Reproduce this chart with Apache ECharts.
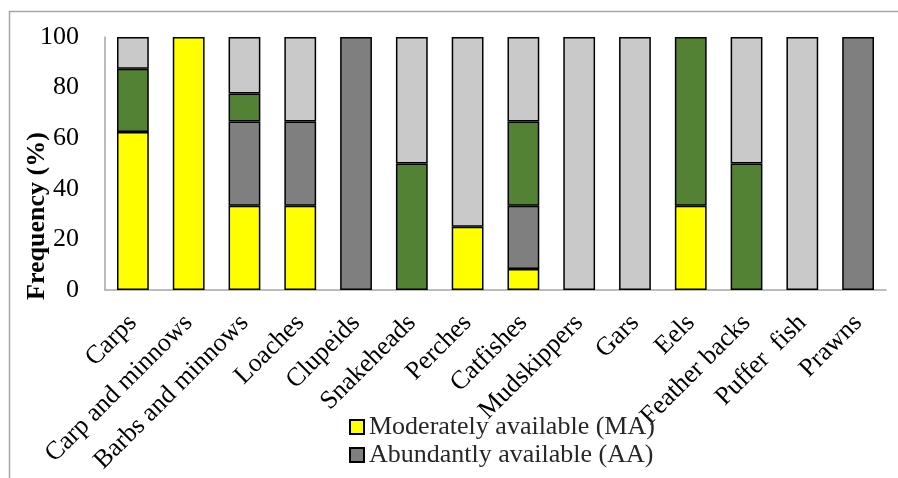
<!DOCTYPE html>
<html>
<head>
<meta charset="utf-8">
<script src="https://cdn.jsdelivr.net/npm/echarts@6/dist/echarts.min.js"></script>
<style>html,body{margin:0;padding:0;background:#fff}#c{width:898px;height:478px}</style>
</head>
<body>
<div id="c"></div>
<script>
var categories = ['Carps','Carp and minnows','Barbs and minnows','Loaches','Clupeids','Snakeheads','Perches','Catfishes','Mudskippers','Gars','Eels','Feather backs','Puffer  fish','Prawns'];
var moderately = [62.5,100,33.3,33.3,0,0,25,8.3,0,0,33.3,0,0,0];
var abundantly = [0,0,33.3,33.3,100,0,0,25,0,0,0,0,0,100];
var highly = [25,0,11.1,0,0,50,0,33.3,0,0,66.7,50,0,0];
var rarely = [12.5,0,22.3,33.4,0,50,75,33.4,100,100,0,50,100,0];
var yTicks = [0,20,40,60,80,100];

var font = "'Liberation Serif', serif";
var chart = echarts.init(document.getElementById('c'), null, {renderer:'canvas'});
function s(name, data, color){
  return {name:name, type:'bar', stack:'a', barCategoryGap:'43%',
    data:data.map(function(v){return v===0?'-':v;}),
    itemStyle:{color:color, borderColor:'#000', borderWidth:1.5}};
}
var legendBase = {orient:'vertical', left:349, padding:0, itemWidth:14, itemHeight:14, itemGap:6, icon:'rect',
  textStyle:{fontFamily:font, fontSize:26, color:'#262626'}};
chart.setOption({
  animation:false,
  graphic:[
    {type:'rect', shape:{x:9.5,y:11.5,width:1000,height:1000}, style:{fill:null, stroke:'#a6a6a6', lineWidth:1.5}, z:-1},
    {type:'text', x:37, y:216, rotation:Math.PI/2, style:{text:'Frequency (%)', font:"bold 26px 'Liberation Serif', serif", fill:'#000', textAlign:'center', textVerticalAlign:'middle'}}
  ],
  grid:{left:105, top:37, right:12, bottom:188, containLabel:false},
  legend:[
    Object.assign({}, legendBase, {data:['Moderately available (MA)'], top:414}),
    Object.assign({}, legendBase, {data:['Abundantly available (AA)'], top:442})
  ],
  xAxis:{type:'category', data:categories,
    axisLine:{lineStyle:{color:'#a6a6a6', width:1.5}}, axisTick:{show:false},
    axisLabel:{rotate:45, interval:0, margin:29, fontFamily:font, fontSize:26, color:'#000'}},
  yAxis:{type:'value', min:0, max:100, interval:20, splitLine:{show:false},
    axisLine:{show:true, lineStyle:{color:'#a6a6a6', width:1.5}}, axisTick:{show:false},
    axisLabel:{margin:26, fontFamily:font, fontSize:26, color:'#000',
      formatter:function(v){return yTicks.indexOf(v)>=0?String(v):'';}}},
  series:[
    s('Moderately available (MA)', moderately, '#ffff00'),
    s('Abundantly available (AA)', abundantly, '#7f7f7f'),
    s('Highly available (HA)', highly, '#548235'),
    s('Rarely available (RA)', rarely, '#c9c9c9')
  ]
});
</script>
</body>
</html>
